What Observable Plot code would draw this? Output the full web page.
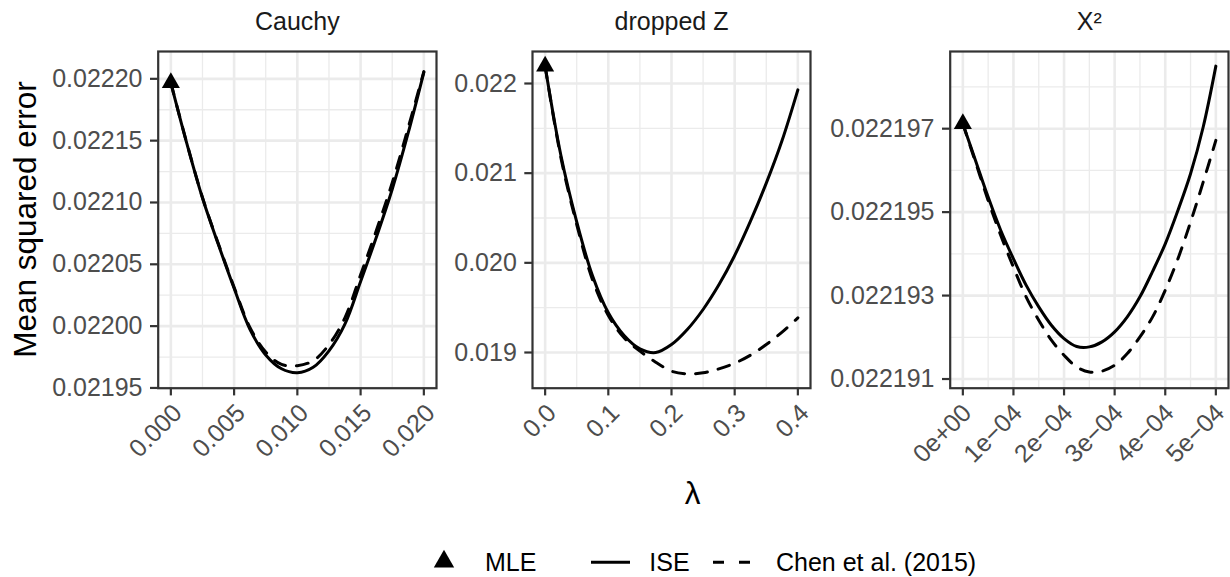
<!DOCTYPE html>
<html><head><meta charset="utf-8">
<script src="https://cdn.jsdelivr.net/npm/d3@7"></script>
<script src="https://cdn.jsdelivr.net/npm/@observablehq/plot@0.6"></script>
<style>
body{margin:0;background:#fff;}
#wrap{position:relative;width:1230px;height:577px;overflow:hidden;background:#fff;font-family:"Liberation Sans",Arial,sans-serif;}
.panel{position:absolute;top:0;}
.panel svg{overflow:visible;}
#overlay{position:absolute;left:0;top:0;pointer-events:none;}
</style>
</head><body>
<div id="wrap"></div>
<script>
// ---------- data ----------
const facetTitles = ["Cauchy", "dropped Z", "X\u00b2"];
const seriesNames = ["MLE", "ISE", "Chen et al. (2015)"];

const cauchyLambda = [0, 0.00125, 0.0025, 0.00375, 0.005, 0.00625, 0.0075, 0.00875, 0.01, 0.01125, 0.0125, 0.01375, 0.015, 0.01625, 0.0175, 0.01875, 0.02];
const cauchyISE  = [0.0221968, 0.0221482, 0.0221036, 0.0220662, 0.0220306, 0.0219975, 0.0219767, 0.0219655, 0.0219623, 0.0219667, 0.0219800, 0.0220014, 0.0220361, 0.0220721, 0.0221107, 0.0221558, 0.0222053];
const cauchyChen = [0.0221968, 0.0221485, 0.0221040, 0.0220668, 0.0220315, 0.0219990, 0.0219790, 0.0219690, 0.0219680, 0.0219720, 0.0219850, 0.0220065, 0.0220415, 0.0220775, 0.0221160, 0.0221600, 0.0222058];
const cauchyMLE = 0.0221968;

const dropLambda = [0, 0.025, 0.05, 0.075, 0.1, 0.125, 0.15, 0.175, 0.2, 0.225, 0.25, 0.275, 0.3, 0.325, 0.35, 0.375, 0.4];
const dropISE  = [0.0221933, 0.0211970, 0.0204573, 0.0198550, 0.0194424, 0.0191896, 0.0190409, 0.0190000, 0.0190892, 0.0192565, 0.0194796, 0.0197547, 0.0200818, 0.0204647, 0.0208885, 0.0213643, 0.0219294];
const dropChen = [0.0221933, 0.0211710, 0.0204275, 0.0198104, 0.0194126, 0.0191636, 0.0190149, 0.0188922, 0.0187918, 0.0187621, 0.0187732, 0.0188178, 0.0188810, 0.0189703, 0.0190892, 0.0192268, 0.0193866];
const dropMLE = 0.0221933;

const x2Lambda = [0, 2.5e-5, 5e-5, 7.5e-5, 1e-4, 1.25e-4, 1.5e-4, 1.75e-4, 2e-4, 2.25e-4, 2.5e-4, 2.75e-4, 3e-4, 3.25e-4, 3.5e-4, 3.75e-4, 4e-4, 4.25e-4, 4.5e-4, 4.75e-4, 5e-4];
const x2ISE  = [0.02219712, 0.02219624, 0.02219536, 0.02219456, 0.02219388, 0.02219325, 0.02219273, 0.02219229, 0.02219197, 0.02219178, 0.02219177, 0.02219189, 0.02219213, 0.02219249, 0.02219297, 0.02219358, 0.02219424, 0.02219504, 0.02219592, 0.02219704, 0.02219850];
const x2Chen = [0.02219712, 0.02219620, 0.02219528, 0.02219444, 0.02219368, 0.02219297, 0.02219241, 0.02219193, 0.02219157, 0.02219129, 0.02219117, 0.02219119, 0.02219133, 0.02219161, 0.02219201, 0.02219249, 0.02219313, 0.02219388, 0.02219476, 0.02219572, 0.02219672];
const x2MLE = 0.02219712;

// ticks & labels
const cauchyXTicks = [0, 0.005, 0.01, 0.015, 0.02];
const cauchyXLabels = ["0.000", "0.005", "0.010", "0.015", "0.020"];
const cauchyXMinor = [0.0025, 0.0075, 0.0125, 0.0175];
const cauchyYTicks = [0.02195, 0.022, 0.02205, 0.0221, 0.02215, 0.0222];
const cauchyYLabels = ["0.02195", "0.02200", "0.02205", "0.02210", "0.02215", "0.02220"];
const cauchyYMinor = [0.021975, 0.022025, 0.022075, 0.022125, 0.022175];

const dropXTicks = [0, 0.1, 0.2, 0.3, 0.4];
const dropXLabels = ["0.0", "0.1", "0.2", "0.3", "0.4"];
const dropXMinor = [0.05, 0.15, 0.25, 0.35];
const dropYTicks = [0.019, 0.020, 0.021, 0.022];
const dropYLabels = ["0.019", "0.020", "0.021", "0.022"];
const dropYMinor = [0.0195, 0.0205, 0.0215];

const x2XTicks = [0, 1e-4, 2e-4, 3e-4, 4e-4, 5e-4];
const x2XLabels = ["0e+00", "1e\u221204", "2e\u221204", "3e\u221204", "4e\u221204", "5e\u221204"];
const x2XMinor = [5e-5, 1.5e-4, 2.5e-4, 3.5e-4, 4.5e-4];
const x2YTicks = [0.022191, 0.022193, 0.022195, 0.022197];
const x2YLabels = ["0.022191", "0.022193", "0.022195", "0.022197"];
const x2YMinor = [0.022192, 0.022194, 0.022196, 0.022198];

// ---------- drawing ----------
const FONT = '"Liberation Sans", Arial, sans-serif';
const TOP = 51, BOTTOM = 387.7, H = 577;

function panel(cfg) {
  const rows = cfg.lam.map((l, i) => ({l, ise: cfg.ise[i], chen: cfg.chen[i]}));
  const fmt = (ticks, labels) => d => {
    const i = ticks.findIndex(t => Math.abs(t - d) < 1e-12);
    return i >= 0 ? labels[i] : "";
  };
  const svg = Plot.plot({
    width: cfg.width, height: H,
    marginLeft: cfg.ml, marginRight: cfg.mr, marginTop: TOP, marginBottom: H - BOTTOM,
    style: {fontFamily: FONT, fontSize: "25px", background: "transparent", overflow: "visible"},
    x: {domain: cfg.xDomain},
    y: {domain: cfg.yDomain},
    marks: [
      Plot.ruleX(cfg.xMinor, {stroke: "#ebebeb", strokeWidth: 1.3}),
      Plot.ruleY(cfg.yMinor, {stroke: "#ebebeb", strokeWidth: 1.3}),
      Plot.ruleX(cfg.xTicks, {stroke: "#ebebeb", strokeWidth: 2.6}),
      Plot.ruleY(cfg.yTicks, {stroke: "#ebebeb", strokeWidth: 2.6}),
      Plot.line(rows, {x: "l", y: "ise", stroke: "black", strokeWidth: 3, curve: "catmull-rom"}),
      Plot.line(rows, {x: "l", y: "chen", stroke: "black", strokeWidth: 3, curve: "catmull-rom", strokeDasharray: "12,11"}),
      Plot.dot([{l: 0, v: cfg.mle}], {x: "l", y: "v", symbol: "triangle", r: 6.7, fill: "black", stroke: null}),
      Plot.frame({stroke: "#333333", strokeWidth: 2.2}),
      Plot.axisX({ticks: cfg.xTicks, tickFormat: fmt(cfg.xTicks, cfg.xLabels), tickRotate: -45,
        textAnchor: "end", lineAnchor: "top",
        tickSize: 7.7, tickPadding: 6, stroke: "#333333", strokeWidth: 2.2, fill: "#4d4d4d", fontSize: 25, label: null}),
      Plot.axisY({ticks: cfg.yTicks, tickFormat: fmt(cfg.yTicks, cfg.yLabels),
        tickSize: 7.7, tickPadding: 8, stroke: "#333333", strokeWidth: 2.2, fill: "#4d4d4d", fontSize: 25, label: null}),
      Plot.text([cfg.title], {text: d => d, frameAnchor: "top", dy: -30, lineAnchor: "middle", fontSize: 25, fill: "#1a1a1a"})
    ]
  });
  if (cfg.labelShift) {
    const g = svg.querySelector('g[aria-label="x-axis tick label"]');
    if (g) g.setAttribute("transform", ((g.getAttribute("transform") || "") + ` translate(${cfg.labelShift},0)`).trim());
  }
  const div = document.createElement("div");
  div.className = "panel";
  div.style.left = cfg.left + "px";
  div.style.width = cfg.width + "px";
  div.appendChild(svg);
  document.getElementById("wrap").appendChild(div);
}

panel({title: facetTitles[0], left: 0, width: 445, ml: 157.7, mr: 9,
  xDomain: [-0.001, 0.021], yDomain: [0.0219498, 0.0222221],
  lam: cauchyLambda, ise: cauchyISE, chen: cauchyChen, mle: cauchyMLE,
  xTicks: cauchyXTicks, xLabels: cauchyXLabels, xMinor: cauchyXMinor,
  yTicks: cauchyYTicks, yLabels: cauchyYLabels, yMinor: cauchyYMinor});

panel({title: facetTitles[1], left: 445, width: 380, ml: 87, mr: 15,
  xDomain: [-0.02, 0.42], yDomain: [0.0186019, 0.0223569],
  lam: dropLambda, ise: dropISE, chen: dropChen, mle: dropMLE,
  xTicks: dropXTicks, xLabels: dropXLabels, xMinor: dropXMinor,
  yTicks: dropYTicks, yLabels: dropYLabels, yMinor: dropYMinor});

panel({title: facetTitles[2], left: 825, width: 405, ml: 124.7, mr: 2, labelShift: -2.5,
  xDomain: [-2.5e-5, 5.25e-4], yDomain: [0.02219078, 0.02219885],
  lam: x2Lambda, ise: x2ISE, chen: x2Chen, mle: x2MLE,
  xTicks: x2XTicks, xLabels: x2XLabels, xMinor: x2XMinor,
  yTicks: x2YTicks, yLabels: x2YLabels, yMinor: x2YMinor});

// ---------- titles and legend ----------
const NS = "http://www.w3.org/2000/svg";
const ov = document.createElementNS(NS, "svg");
ov.setAttribute("id", "overlay");
ov.setAttribute("width", 1230);
ov.setAttribute("height", 577);
ov.style.fontFamily = FONT;
function el(tag, attrs, text) {
  const e = document.createElementNS(NS, tag);
  for (const k in attrs) e.setAttribute(k, attrs[k]);
  if (text != null) e.textContent = text;
  ov.appendChild(e);
  return e;
}
el("text", {transform: "translate(35.5,219.5) rotate(-90)", "text-anchor": "middle", "font-size": 31.5, fill: "#000"}, "Mean squared error");
el("text", {x: 692.5, y: 504, "text-anchor": "middle", "font-size": 31.5, fill: "#000"}, "\u03bb");
// legend
const LY = 562.3;
el("path", {d: d3.symbol(d3.symbolTriangle, 180)(), transform: `translate(444,${LY - 0.8})`, fill: "#000"});
el("text", {x: 485, y: LY + 8.8, "font-size": 25, fill: "#000"}, seriesNames[0]);
el("line", {x1: 591, x2: 630, y1: LY, y2: LY, stroke: "#000", "stroke-width": 3});
el("text", {x: 649.3, y: LY + 8.8, "font-size": 25, fill: "#000"}, seriesNames[1]);
el("line", {x1: 713, x2: 751, y1: LY, y2: LY, stroke: "#000", "stroke-width": 3, "stroke-dasharray": "11,15"});
el("text", {x: 776, y: LY + 8.8, "font-size": 25, fill: "#000"}, seriesNames[2]);
document.getElementById("wrap").appendChild(ov);
</script>
</body></html>
